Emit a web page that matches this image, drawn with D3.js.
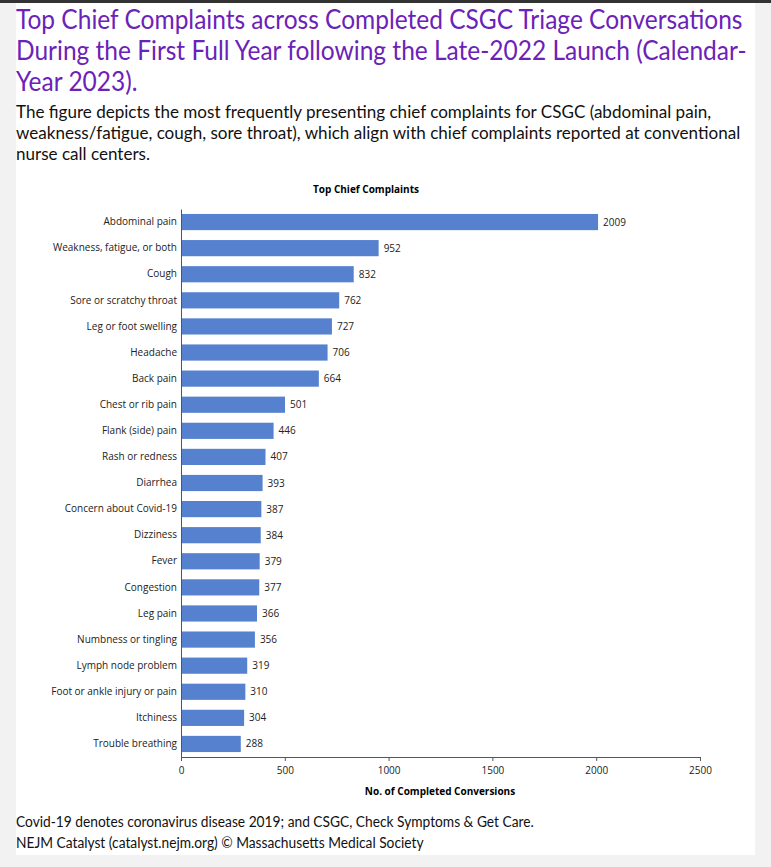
<!DOCTYPE html>
<html>
<head>
<meta charset="utf-8">
<script src="https://cdn.jsdelivr.net/npm/d3@7"></script>
<style>
  body { margin: 0; background: #f2f2f2; }
  svg { display: block; }
</style>
</head>
<body>
<svg id="chart" width="771" height="867"></svg>
<script>
// chart data
var complaints = ["Abdominal pain", "Weakness, fatigue, or both", "Cough", "Sore or scratchy throat",
  "Leg or foot swelling", "Headache", "Back pain", "Chest or rib pain", "Flank (side) pain",
  "Rash or redness", "Diarrhea", "Concern about Covid-19", "Dizziness", "Fever", "Congestion",
  "Leg pain", "Numbness or tingling", "Lymph node problem", "Foot or ankle injury or pain",
  "Itchiness", "Trouble breathing"]
var counts = [2009, 952, 832, 762, 727, 706, 664, 501, 446, 407, 393, 387, 384, 379, 377, 366, 356, 319, 310, 304, 288]
var xTicks = [0, 500, 1000, 1500, 2000, 2500]

var titleLines = ["Top Chief Complaints across Completed CSGC Triage Conversations",
  "During the First Full Year following the Late-2022 Launch (Calendar-",
  "Year 2023)."]
var subLines = ["The figure depicts the most frequently presenting chief complaints for CSGC (abdominal pain,",
  "weakness/fatigue, cough, sore throat), which align with chief complaints reported at conventional",
  "nurse call centers."]
var noteLines = ["Covid-19 denotes coronavirus disease 2019; and CSGC, Check Symptoms & Get Care.",
  "NEJM Catalyst (catalyst.nejm.org) \u00A9 Massachusetts Medical Society"]

var data = complaints.map((c, i) => ({name: c, value: counts[i]}))

var svg = d3.select("#chart")
var font = "Lato, 'Open Sans', sans-serif"
var chartFont = "'Open Sans', sans-serif"

// page panel
svg.append("rect").attr("x", 0).attr("y", 0).attr("width", 771).attr("height", 3).attr("fill", "#333")
svg.append("rect").attr("x", 16).attr("y", 3).attr("width", 739).attr("height", 852).attr("fill", "#fff")

// text block scaled sideways so its widest line takes the given width (the original face is narrow)
function textBlock(lines, y0, lineH, size, color, maxWidth) {
  var g = svg.append("g")
  var t = g.selectAll("text")
    .data(lines)
    .join("text")
    .attr("font-family", font)
    .attr("font-size", size)
    .attr("fill", color)
    .text(d => d)
  var w = d3.max(t.nodes(), n => n.getComputedTextLength())
  var k = maxWidth / w
  t.attr("transform", (d, i) => `translate(16,${y0 + i * lineH}) scale(${k},1)`)
}

textBlock(titleLines, 29, 31, 26, "#6b22b8", 731)
textBlock(subLines, 118, 21, 17, "#111", 725)
textBlock(noteLines, 827, 21, 14.5, "#111", 518)

// bar chart
var x = d3.scaleLinear().domain([0, 2500]).range([181, 700])
var y = d3.scaleBand().domain(complaints).range([209, 757]).paddingInner(0.38).paddingOuter(0.19)

svg.append("text")
  .attr("x", 366).attr("y", 193)
  .attr("text-anchor", "middle")
  .attr("font-family", chartFont)
  .attr("font-size", 10)
  .attr("font-weight", "bold")
  .text("Top Chief Complaints")

svg.append("g")
  .selectAll("rect")
  .data(data)
  .join("rect")
  .attr("x", x(0))
  .attr("y", d => y(d.name))
  .attr("width", d => x(d.value) - x(0))
  .attr("height", y.bandwidth())
  .attr("fill", "#5581cf")

svg.append("g")
  .selectAll("text")
  .data(data)
  .join("text")
  .attr("x", d => x(d.value) + 5)
  .attr("y", d => y(d.name) + y.bandwidth() / 2)
  .attr("dy", "0.35em")
  .attr("font-family", chartFont)
  .attr("font-size", 10)
  .attr("fill", "#222")
  .text(d => d.value)

var yAxis = svg.append("g")
  .attr("transform", `translate(${x(0)},0)`)
  .call(d3.axisLeft(y).tickSize(0).tickPadding(4))
yAxis.select(".domain").attr("stroke", "#555")
yAxis.selectAll("text").attr("font-family", chartFont).attr("font-size", 10).attr("fill", "#222")

var xAxis = svg.append("g")
  .attr("transform", "translate(0,757)")
  .call(d3.axisBottom(x).tickValues(xTicks).tickSize(4).tickSizeOuter(0).tickPadding(6).tickFormat(d3.format("d")))
xAxis.select(".domain").attr("stroke", "#555")
xAxis.selectAll("line").attr("stroke", "#555")
xAxis.selectAll("text").attr("font-family", chartFont).attr("font-size", 10).attr("fill", "#222")

svg.append("text")
  .attr("x", 440).attr("y", 795)
  .attr("text-anchor", "middle")
  .attr("font-family", chartFont)
  .attr("font-size", 10)
  .attr("font-weight", "bold")
  .text("No. of Completed Conversions")
</script>
</body>
</html>
